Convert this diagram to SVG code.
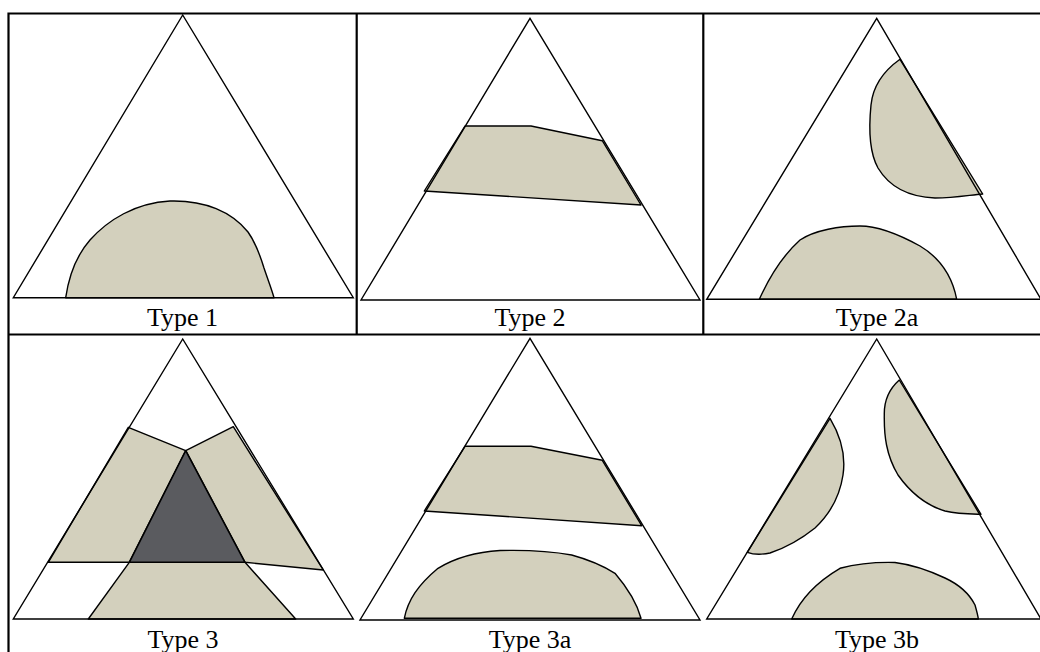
<svg xmlns="http://www.w3.org/2000/svg" width="1040" height="652" viewBox="0 0 1040 652">
<style>
.grid{stroke:#000;stroke-width:2.2;fill:none}
.tri{fill:none;stroke:#000;stroke-width:1.4;stroke-linejoin:miter}
.tan{fill:#d3d0bd;stroke:#000;stroke-width:1.4;stroke-linejoin:round}
.dark{fill:#5a5b5f;stroke:#000;stroke-width:1.6;stroke-linejoin:round}
.lbl{font-family:"Liberation Serif","Times New Roman",serif;font-size:26px;fill:#000;text-anchor:middle}
</style>
<rect width="1040" height="652" fill="#fff"/>
<g id="table">
<path class="grid" d="M8.5,652 V13.5 H1040 M356.7,13.5 V334.5 M703.3,13.5 V334.5 M8.5,334.5 H1040"/>
</g>
<g id="type1">
<path class="tan" d="M65.7,297.7 C69,275 76,256 90,240 C108,220 135,203 170,201 C205,200 232,212 248,232 C256,243 260,255 264,268 C268,280 272,290 274,297.7 Z"/>
<polygon class="tri" points="182.7,15 13.3,297.7 353.3,297.7"/>
<text class="lbl" x="182.5" y="325.5">Type 1</text>
</g>
<g id="type2">
<polygon class="tan" points="465,126 531,126 602.3,140.7 641,205 424.3,191"/>
<polygon class="tri" points="530,18.3 361,300 700,300"/>
<text class="lbl" x="530" y="325.5">Type 2</text>
</g>
<g id="type2a">
<path class="tan" d="M900,59.3 C885,70 873,85 871,105 C869,125 868,150 878,168 C890,188 910,197 935,198 C955,198 970,195 982.7,194 Z"/>
<path class="tan" d="M759.3,299.3 C768,280 780,258 800,240 C815,230 840,226 860,226 C880,226 900,235 920,246 C940,258 952,275 956.7,299.3 Z"/>
<polygon class="tri" points="876.7,18.3 706.7,299.3 1041,299.3"/>
<text class="lbl" x="877" y="325.5">Type 2a</text>
</g>
<g id="type3">
<polygon class="tan" points="128.3,427.3 185.7,450.7 129.3,562.3 48.3,562.3"/>
<polygon class="tan" points="233.3,426.7 185.7,450.7 245,562.3 323.3,570"/>
<polygon class="tan" points="129.3,562.3 245,562.3 295.7,619 88.3,619"/>
<polygon class="dark" points="185.7,450.7 245,562.3 129.3,562.3"/>
<polygon class="tri" points="182.7,339 13.3,619 353.3,619"/>
<text class="lbl" x="183" y="648">Type 3</text>
</g>
<g id="type3a">
<polygon class="tan" points="465,446.3 531,446.3 602.3,460.3 641.7,525.7 424.3,511"/>
<path class="tan" d="M404.3,618.3 C408,600 418,585 438,568.3 C455,558 475,552 500,550.5 C520,550 545,550 571.7,555 C590,560 605,567 615,573.3 C625,585 636,600 641,618.3 Z"/>
<polygon class="tri" points="530,338.3 360,620 700,620"/>
<text class="lbl" x="530" y="648">Type 3a</text>
</g>
<g id="type3b">
<path class="tan" d="M899.3,380 C888,390 884,402 884.3,415 C884,435 886,455 898,475 C910,492 925,505 945,511 C958,514 970,514 981,514.3 Z"/>
<path class="tan" d="M830,418.3 C840,435 846,455 843,475 C840,495 832,512 815,528 C800,540 785,548 770,553 C760,555 752,554 747.3,552.3 Z"/>
<path class="tan" d="M791.7,619 C800,600 815,583 840,568.3 C860,563 875,562 895,562.5 C915,565 930,571 945,578 C960,585 970,595 975,605 C977,612 978,616 978.3,619 Z"/>
<polygon class="tri" points="876.7,339 706.7,619 1041,619"/>
<text class="lbl" x="877" y="648">Type 3b</text>
</g>
</svg>
